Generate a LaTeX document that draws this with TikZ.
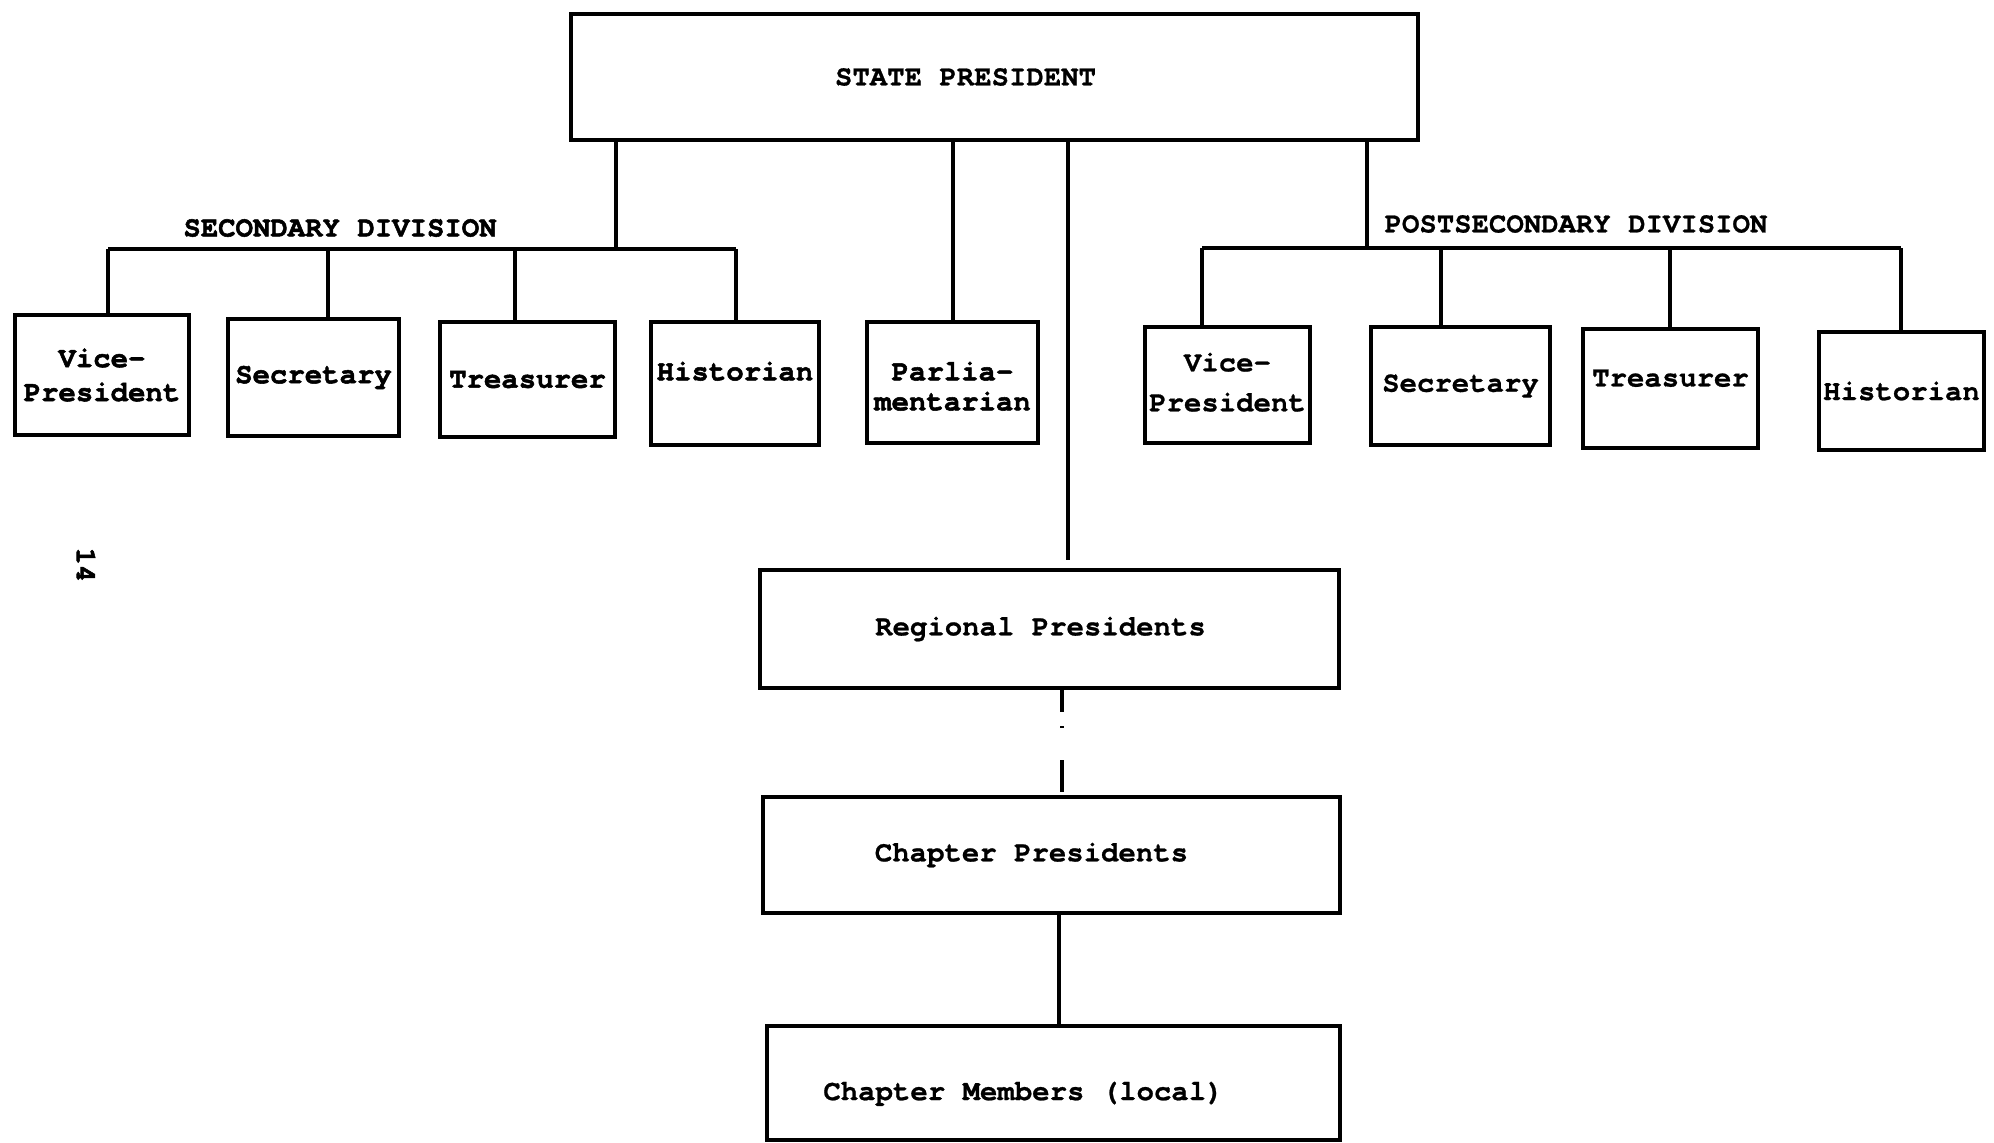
\documentclass[tikz,border=0pt]{standalone}
\usepackage{fontspec}
\setmonofont{TeX Gyre Cursor}[BoldFeatures={FakeBold=0.8}]
\newfontfamily\heavytt{TeX Gyre Cursor}[BoldFeatures={FakeBold=1.8}]
\begin{document}
\begin{tikzpicture}[x=0.5pt,y=-0.5pt,
  box/.style={draw,line width=2.3pt,inner sep=0pt,align=center,
    font=\heavytt\bfseries\fontsize{14.5pt}{17pt}\selectfont},
  lightbox/.style={box,line width=2.1pt,font=\ttfamily\bfseries\fontsize{14.5pt}{20pt}\selectfont},
  lbl/.style={inner sep=0pt,font=\ttfamily\bfseries\fontsize{14.5pt}{17pt}\selectfont},
  conn/.style={line width=2pt}]
\useasboundingbox (0,0) rectangle (1994,1142);

% top office
\node[lightbox,minimum width=423.5pt,minimum height=63pt] (sp) at (994.5,77)
  {STATE PRESIDENT\hspace*{29pt}};

% secondary division officers
\node[box,minimum width=87pt,minimum height=60pt] (svp) at (102,375) {Vice-\\President};
\node[box,minimum width=85.5pt,minimum height=58.5pt] (ssec) at (313.5,377.5) {Secretary};
\node[box,minimum width=87.5pt,minimum height=57.5pt] (stre) at (527.5,379.5) {Treasurer};
\node[box,minimum width=84pt,minimum height=61.5pt] (shis) at (735,383.5) {\raisebox{12.5pt}{Historian}};
\node[box,font=\heavytt\bfseries\fontsize{14.5pt}{15pt}\selectfont,minimum width=85.5pt,minimum height=60.5pt] (parl) at (952.5,382.5)
  {\rule{0pt}{13pt}Parlia-\\mentarian};

% postsecondary division officers
\node[lightbox,minimum width=82.5pt,minimum height=58pt] (pvp) at (1227.5,385) {Vice-\\President\rule[-3pt]{0pt}{1pt}};
\node[lightbox,minimum width=89.5pt,minimum height=59pt] (psec) at (1460.5,386) {Secretary};
\node[lightbox,minimum width=87.5pt,minimum height=59.5pt] (ptre) at (1670.5,388.5) {\raisebox{10.5pt}{Treasurer}};
\node[lightbox,minimum width=82.5pt,minimum height=59pt] (phis) at (1901.5,391) {Historian};

% local levels
\node[lightbox,minimum width=289.5pt,minimum height=59pt] (reg) at (1049.5,629) {Regional Presidents\hspace*{9pt}};
\node[lightbox,minimum width=288.5pt,minimum height=58pt] (chp) at (1051.5,855) {Chapter Presidents\hspace*{20pt}};
\node[lightbox,minimum width=286.5pt,minimum height=57pt] (mem) at (1053.5,1083) {\rule{0pt}{20pt}Chapter Members (local)\hspace*{30pt}};

% division headings and page number
\node[lbl,font=\heavytt\bfseries\fontsize{14.5pt}{17pt}\selectfont] (sechead) at (340,228) {SECONDARY DIVISION};
\node[lbl] (posthead) at (1576,224) {POSTSECONDARY DIVISION};
\node[lbl,font=\heavytt\bfseries\fontsize{14.5pt}{17pt}\selectfont,rotate=-90] (pagenum) at (86,565) {14};

% junction points of the connector tree
\coordinate (secJ) at (616,249);
\coordinate (secL) at (108,249);
\coordinate (secR) at (736,249);
\coordinate (s2) at (328,249);
\coordinate (s3) at (515,249);
\coordinate (postJ) at (1367,248);
\coordinate (postL) at (1202,248);
\coordinate (p2) at (1441,248);
\coordinate (p3) at (1670,248);
\coordinate (postR) at (1901,248);
\coordinate (regtop) at (1068,560);
\coordinate (regJ) at (1062,0);
\coordinate (memJ) at (1059,0);

% secondary branch
\draw[conn] (sp.south -| secJ) -- (secJ);
\draw[conn] (secL) -- (secR);
\draw[conn] (secL) -- (secL |- svp.north);
\draw[conn] (s2) -- (s2 |- ssec.north);
\draw[conn] (s3) -- (s3 |- stre.north);
\draw[conn] (secR) -- (secR |- shis.north);

% parliamentarian
\draw[conn] (sp.south -| parl.north) -- (parl.north);

% postsecondary branch
\draw[conn] (sp.south -| postJ) -- (postJ);
\draw[conn] (postL) -- (postR);
\draw[conn] (postL) -- (postL |- pvp.north);
\draw[conn] (p2) -- (p2 |- psec.north);
\draw[conn] (p3) -- (p3 |- ptre.north);
\draw[conn] (postR) -- (postR |- phis.north);

% chain down to the chapters
\draw[conn] (sp.south -| regtop) -- (regtop);
\draw[conn,dash pattern=on 11pt off 7pt on 1pt off 16pt on 16pt] (reg.south -| regJ) -- (chp.north -| regJ);
\draw[conn] (chp.south -| memJ) -- (mem.north -| memJ);
\end{tikzpicture}
\end{document}
